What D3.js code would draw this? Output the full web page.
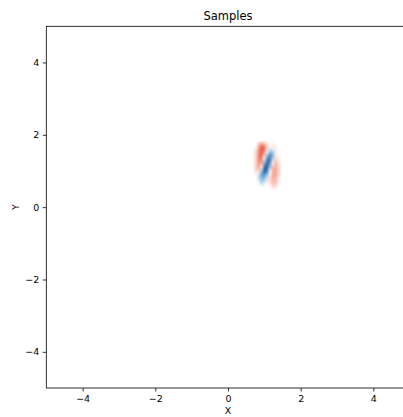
<!DOCTYPE html>
<html>
<head>
<meta charset="utf-8">
<script src="https://cdn.jsdelivr.net/npm/d3@7"></script>
<style>
  html, body { margin: 0; padding: 0; background: #fff; }
  svg { display: block; font-family: "DejaVu Sans", sans-serif; }
</style>
</head>
<body>
<svg id="chart" width="403" height="417"></svg>
<script>
// Sample grid: cell centres along X and Y, and signed sample values per row (top row first).
const xCenters = [0.76, 0.84, 0.92, 1.00, 1.08, 1.16, 1.24, 1.32, 1.40];
const yCenters = [1.76, 1.68, 1.60, 1.52, 1.44, 1.36, 1.28, 1.20, 1.12, 1.04, 0.96, 0.88, 0.80, 0.72, 0.64, 0.56, 0.48];
const sampleValues = [
  [0.0, 0.2, 0.4, 0.3, 0.1, 0.0, 0.05, 0.0, 0.0],
  [0.0, 0.4, 0.8, 0.7, 0.3, 0.0, 0.1, 0.1, 0.0],
  [0.1, 0.5, 0.9, 0.8, 0.2, -0.2, -0.1, 0.1, 0.0],
  [0.2, 0.6, 0.9, 0.6, -0.1, -0.5, -0.4, 0.1, 0.0],
  [0.2, 0.6, 0.9, 0.4, -0.4, -0.8, -0.5, 0.1, 0.0],
  [0.2, 0.6, 0.8, 0.1, -0.7, -0.9, -0.4, 0.2, 0.1],
  [0.2, 0.6, 0.6, -0.3, -0.9, -0.9, -0.2, 0.3, 0.1],
  [0.2, 0.5, 0.4, -0.6, -1.0, -0.7, 0.1, 0.4, 0.2],
  [0.2, 0.5, 0.1, -0.9, -1.0, -0.5, 0.3, 0.45, 0.2],
  [0.2, 0.3, -0.3, -1.0, -0.9, -0.2, 0.4, 0.45, 0.2],
  [0.1, 0.1, -0.5, -0.9, -0.7, 0.0, 0.4, 0.45, 0.2],
  [0.0, -0.2, -0.6, -0.7, -0.4, 0.1, 0.45, 0.45, 0.2],
  [0.0, -0.2, -0.5, -0.5, -0.2, 0.2, 0.45, 0.4, 0.1],
  [0.0, -0.1, -0.4, -0.3, -0.1, 0.2, 0.4, 0.35, 0.1],
  [0.0, 0.0, -0.2, -0.1, 0.0, 0.15, 0.3, 0.3, 0.0],
  [0.0, 0.0, 0.0, 0.0, 0.0, 0.0, 0.2, 0.15, 0.0],
  [0.0, 0.0, 0.0, 0.0, 0.0, 0.0, 0.05, 0.0, 0.0]
];
const cellSize = 0.08;
const xTicks = [-4, -2, 0, 2, 4];
const yTicks = [-4, -2, 0, 2, 4];
const xDomain = [-5, 5];
const yDomain = [-5, 5];

const svg = d3.select("#chart");
const margin = { left: 46.3, top: 26.3 };
const plotW = 363.4, plotH = 361.7;

const x = d3.scaleLinear().domain(xDomain).range([margin.left, margin.left + plotW]);
const y = d3.scaleLinear().domain(yDomain).range([margin.top + plotH, margin.top]);

const color = d3.scaleLinear()
  .domain([-1, -0.5, 0, 0.5, 1])
  .range(["#0b4f99", "#74b0da", "#ffffff", "#f7937a", "#db3a2e"])
  .clamp(true);

const defs = svg.append("defs");
defs.append("filter").attr("id", "soften")
  .attr("x", "-50%").attr("y", "-50%").attr("width", "200%").attr("height", "200%")
  .append("feGaussianBlur").attr("stdDeviation", 0.9);
defs.append("clipPath").attr("id", "plotClip")
  .append("rect").attr("x", margin.left).attr("y", margin.top)
  .attr("width", plotW).attr("height", plotH);

// Sample cells
const cells = [];
sampleValues.forEach((row, i) => row.forEach((v, j) => {
  if (v !== 0) cells.push({ cx: xCenters[j], cy: yCenters[i], v });
}));

svg.append("g").attr("clip-path", "url(#plotClip)")
  .append("g").attr("filter", "url(#soften)")
  .selectAll("rect").data(cells).join("rect")
  .attr("x", d => x(d.cx - cellSize / 2))
  .attr("y", d => y(d.cy + cellSize / 2))
  .attr("width", d => x(d.cx + cellSize / 2) - x(d.cx - cellSize / 2))
  .attr("height", d => y(d.cy - cellSize / 2) - y(d.cy + cellSize / 2))
  .attr("fill", d => color(d.v));

// Axes
const fmt = d => (d < 0 ? "\u2212" + Math.abs(d) : String(d));
const xAxis = svg.append("g")
  .attr("transform", `translate(0,${margin.top + plotH})`)
  .call(d3.axisBottom(x).tickValues(xTicks).tickFormat(fmt).tickSize(3.5).tickPadding(3.5));
const yAxis = svg.append("g")
  .attr("transform", `translate(${margin.left},0)`)
  .call(d3.axisLeft(y).tickValues(yTicks).tickFormat(fmt).tickSize(3.5).tickPadding(3.5));

[xAxis, yAxis].forEach(a => {
  a.select(".domain").remove();
  a.selectAll("line").attr("stroke", "#000").attr("stroke-width", 0.8);
  a.selectAll("text").attr("font-size", 9.5).attr("fill", "#000")
    .attr("font-family", "DejaVu Sans, sans-serif");
});

// Spines
svg.append("rect")
  .attr("x", margin.left).attr("y", margin.top)
  .attr("width", plotW).attr("height", plotH)
  .attr("fill", "none").attr("stroke", "#000").attr("stroke-width", 0.8);

// Titles
svg.append("text").attr("x", x(0)).attr("y", 20)
  .attr("text-anchor", "middle").attr("font-size", 11.5).text("Samples");
svg.append("text").attr("x", x(0)).attr("y", 413.5)
  .attr("text-anchor", "middle").attr("font-size", 9.5).text("X");
svg.append("text").attr("transform", `translate(18.5,${y(0)}) rotate(-90)`)
  .attr("text-anchor", "middle").attr("font-size", 9.5).text("Y");
</script>
</body>
</html>
